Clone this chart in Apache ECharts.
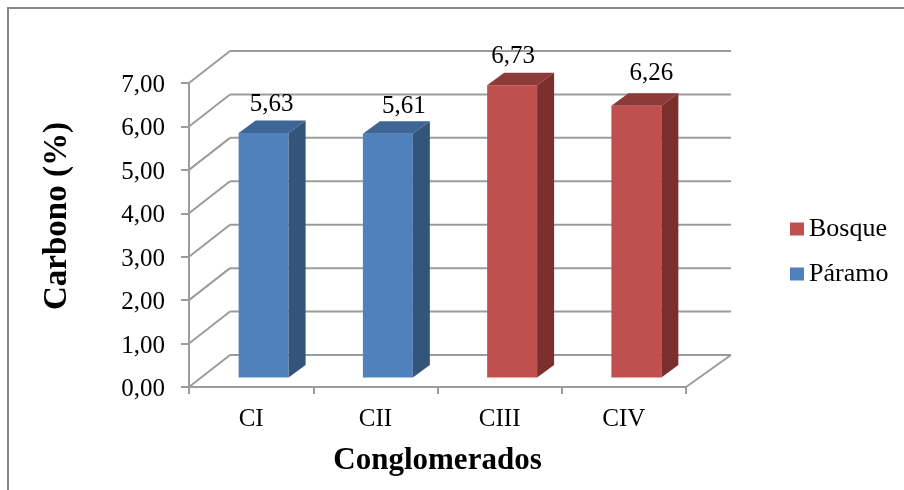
<!DOCTYPE html>
<html>
<head>
<meta charset="utf-8">
<style>
  html, body { margin: 0; padding: 0; background: #fff; }
  #chart { width: 904px; height: 490px; }
</style>
<script src="https://cdn.jsdelivr.net/npm/echarts@6/dist/echarts.min.js"></script>
</head>
<body>
<div id="chart"></div>
<script>
const categories = ['CI', 'CII', 'CIII', 'CIV'];
const paramoValues = [5.63, 5.61, null, null];
const bosqueValues = [null, null, 6.73, 6.26];
const gridTicks = [0, 1, 2, 3, 4, 5, 6, 7];

const FONT = '"Liberation Serif", "Times New Roman", serif';
const LINE = '#9c9c9c';

// 3D look: how far the walls and the bars go back
const WALL_DX = 41, WALL_DY = -32, WALL_RIGHT_DX = 45;
const BAR_DX = 17, BAR_DY = -12.5;
const BAR_SHIFT_X = 12.5, BAR_SHIFT_Y = -9.5;

// the value labels were dragged by hand in the original, one offset per category
const labelShiftX = [8, 16, 1, 15];
const labelShiftY = [-29, -27, -29, -32];

const comma = v => v.toFixed(2).replace('.', ',');
const toPoints = values => categories
	.map((c, i) => [i, values[i]])
	.filter(p => p[1] !== null);

const renderWall = (params, api) => {
	const sys = params.coordSys;
	const y = api.coord([0, api.value(1)])[1];
	const line = (x1, y1, x2, y2) => ({
		type: 'line',
		shape: { x1, y1, x2, y2 },
		style: { stroke: LINE, lineWidth: 2, fill: null }
	});
	const right = sys.x + sys.width + WALL_RIGHT_DX;
	const children = [
		line(sys.x, y, sys.x + WALL_DX, y + WALL_DY),
		line(sys.x + WALL_DX, y + WALL_DY, right, y + WALL_DY)
	];
	if (api.value(1) === 0) {
		children.push(line(sys.x + sys.width, y, right, y + WALL_DY));
	}
	return { type: 'group', children };
};

const renderBar = (front, top, side) => (params, api) => {
	const width = api.size([1, 0])[0] * 0.402;
	const index = api.value(0);
	const value = api.value(1);
	const topPt = api.coord([index, value]);
	const basePt = api.coord([index, 0]);
	const x0 = topPt[0] - width / 2 + BAR_SHIFT_X;
	const x1 = x0 + width;
	const y0 = topPt[1] + BAR_SHIFT_Y;
	const y1 = basePt[1] + BAR_SHIFT_Y;
	const poly = (points, fill) => ({
		type: 'polygon',
		shape: { points },
		style: { fill, stroke: null }
	});
	return {
		type: 'group',
		children: [
			poly([[x0, y0], [x1, y0], [x1, y1], [x0, y1]], front),
			poly([[x0, y0], [x0 + BAR_DX, y0 + BAR_DY], [x1 + BAR_DX, y0 + BAR_DY], [x1, y0]], top),
			poly([[x1, y0], [x1 + BAR_DX, y0 + BAR_DY], [x1 + BAR_DX, y1 + BAR_DY], [x1, y1]], side),
			{
				type: 'text',
				style: {
					text: comma(value),
					x: (x0 + x1) / 2 + labelShiftX[index],
					y: y0 + labelShiftY[index],
					align: 'center',
					verticalAlign: 'middle',
					fontFamily: FONT,
					fontSize: 25,
					fill: '#000'
				}
			}
		]
	};
};

const chart = echarts.init(document.getElementById('chart'), null, { renderer: 'canvas' });

chart.setOption({
	backgroundColor: '#fff',
	animation: false,
	textStyle: { fontFamily: FONT },
	graphic: [{
		type: 'rect',
		shape: { x: 8, y: 8, width: 1000, height: 1000 },
		style: { fill: null, stroke: '#868686', lineWidth: 2 },
		silent: true
	}],
	grid: { left: 189, top: 83, width: 497, height: 304 },
	legend: {
		data: [
			{ name: 'Bosque', itemStyle: { color: '#c0504d' } },
			{ name: 'Páramo', itemStyle: { color: '#4f81bd' } }
		],
		orient: 'vertical',
		left: 790,
		top: 216,
		padding: 0,
		icon: 'rect',
		itemWidth: 14,
		itemHeight: 13,
		itemGap: 19,
		textStyle: { fontFamily: FONT, fontSize: 26, color: '#000' }
	},
	xAxis: {
		type: 'category',
		data: categories,
		name: 'Conglomerados',
		nameLocation: 'middle',
		nameGap: 58,
		nameTextStyle: { fontFamily: FONT, fontSize: 31, fontWeight: 'bold', color: '#000' },
		axisLine: { lineStyle: { color: LINE, width: 2 } },
		axisTick: { show: true, length: 7, lineStyle: { color: LINE, width: 2 } },
		axisLabel: { color: '#000', fontFamily: FONT, fontSize: 25, margin: 20 },
		splitLine: { show: false }
	},
	yAxis: {
		type: 'value',
		min: 0,
		max: 7,
		interval: 1,
		name: 'Carbono (%)',
		nameLocation: 'middle',
		nameGap: 115,
		nameTextStyle: { fontFamily: FONT, fontSize: 33, fontWeight: 'bold', color: '#000', padding: [0, 0, 0, 38] },
		axisLine: { show: true, lineStyle: { color: LINE, width: 2 } },
		axisTick: { show: true, length: 8, lineStyle: { color: LINE, width: 2 } },
		axisLabel: {
			margin: 24,
			formatter: v => `{v|${comma(v)}}`,
			rich: { v: { color: '#000', fontFamily: FONT, fontSize: 25, padding: [5, 0, 0, 0] } }
		},
		splitLine: { show: false }
	},
	series: [
		{
			name: 'walls',
			type: 'custom',
			data: gridTicks.map(t => [0, t]),
			encode: { x: 0, y: 1 },
			renderItem: renderWall,
			clip: false,
			silent: true,
			z: 1
		},
		{
			name: 'Bosque',
			type: 'custom',
			data: toPoints(bosqueValues),
			encode: { x: 0, y: 1 },
			renderItem: renderBar('#c0504d', '#8e3a38', '#7b2f2d'),
			clip: false,
			itemStyle: { color: '#c0504d' },
			z: 3
		},
		{
			name: 'Páramo',
			type: 'custom',
			data: toPoints(paramoValues),
			encode: { x: 0, y: 1 },
			renderItem: renderBar('#4f81bd', '#3d6595', '#325579'),
			clip: false,
			itemStyle: { color: '#4f81bd' },
			z: 3
		}
	]
});
</script>
</body>
</html>
